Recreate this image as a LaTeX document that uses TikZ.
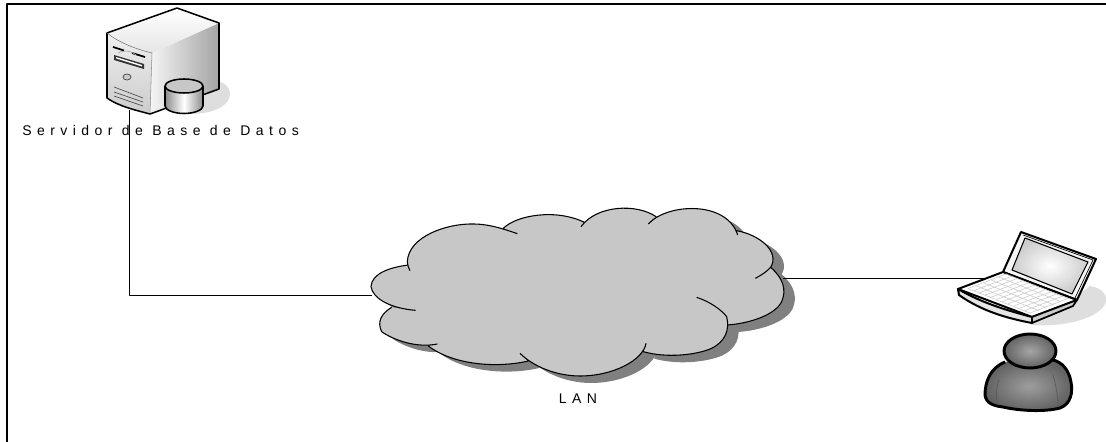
\documentclass[tikz,border=0pt]{standalone}
\usepackage{fontspec}
\setmainfont{Liberation Sans}
\newcommand{\cloudp}[1]{
  (63,290) .. controls (65,250) and (120,232) .. (175,225)
  #1 (180,242) .. controls (176,234) and (172,225) .. (172,215) .. controls (175,140) and (290,100) .. (370,102) .. controls (420,102) and (470,120) .. (502,131)
  #1 (460,115) .. controls (500,75) and (620,55) .. (705,98)
  #1 (693,110) .. controls (740,45) and (860,40) .. (918,80)
  #1 (895,102) .. controls (950,40) and (1130,30) .. (1163,135)
  #1 (1160,122) .. controls (1230,135) and (1290,185) .. (1262,232) .. controls (1250,245) and (1235,255) .. (1216,265)
  #1 (1262,232) .. controls (1300,265) and (1310,300) .. (1295,335) .. controls (1275,375) and (1200,400) .. (1132,405)
  #1 (1040,322) .. controls (1080,335) and (1115,360) .. (1130,380) .. controls (1140,420) and (1125,455) .. (1085,475) .. controls (1040,495) and (950,505) .. (880,485)
  #1 (888,460) .. controls (880,510) and (790,558) .. (690,558) .. controls (620,558) and (550,530) .. (510,490)
  #1 (535,513) .. controls (440,535) and (310,525) .. (235,468)
  #1 (262,462) .. controls (200,475) and (130,450) .. (95,425) .. controls (80,395) and (95,370) .. (125,352)
  #1 (197,361) .. controls (120,355) and (68,325) .. (63,290)}
\begin{document}
\begin{tikzpicture}[x=0.75pt,y=-0.75pt,line join=round,
  lbl/.style={inner sep=0pt,font=\fontsize{10.5}{12}\selectfont\addfontfeature{LetterSpace=39}},
  wire/.style={draw=black,line width=0.7pt},
  outl/.style={draw=black,line width=1.15pt},
  cloudln/.style={draw=black,line width=0.8pt},
  keyln/.style={draw=black!20,line width=0.45pt}]
\path[use as bounding box] (0,0) rectangle (1106,442);
\definecolor{cloudfill}{gray}{0.78}
\definecolor{cloudshadow}{gray}{0.5}
\definecolor{softshadow}{gray}{0.87}
% frame
\draw[black,line width=1.5pt] (7,442) -- (7,4.5) -- (1106,4.5);
% named attachment points
\coordinate (srv) at (129,110);
\coordinate (cloudw) at (372,295);
\coordinate (cloude) at (783,278);
\coordinate (laptop) at (988,278);
% server shadow
\fill[softshadow] (190,114) .. controls (215,114) and (230,105) .. (230,94) .. controls (230,87) and (225,83) .. (218,81) -- (200,100) -- cycle;
% server
\shade[left color=black!4,right color=black!36] (152,53) -- (219,23) -- (219,89) -- (150,113) -- cycle;
\shade[top color=white,bottom color=black!10] (107,33) -- (177,8) -- (219,23) -- (152,53) .. controls (135,49) and (118,42) .. cycle;
\shade[top color=black!6,bottom color=black!20] (107,33) .. controls (118,42) and (135,49) .. (152,53) -- (150,113) .. controls (135,110) and (118,106) .. (107,98) -- cycle;
\draw[outl] (107,33) -- (177,8) -- (219,23) -- (219,89) -- (150,114) .. controls (135,110) and (118,106) .. (107,98) -- cycle;
\draw[black!55,line width=0.4pt] (107,33) .. controls (118,42) and (135,49) .. (152,53);
\draw[black!45,line width=0.4pt] (152,53) -- (150,113);
\draw[black,line width=1.3pt] (113,47) -- (124,50.5);
\draw[black,line width=1.3pt] (132,53) -- (145,57);
\draw[black!35,line width=0.5pt] (118,53) .. controls (124,50) and (130,50) .. (136,55);
\fill[black!80] (114,55) -- (144,64) -- (144,69) -- (114,60) -- cycle;
\fill[white] (116,57) -- (142,65) -- (142,66.5) -- (116,58.5) -- cycle;
\draw[black!70,line width=0.6pt,fill=black!20] (127,77) ellipse (4 and 3);
\draw[black!70,line width=0.5pt] (114,87) -- (143,98) (114,92) -- (143,102) (114,96) -- (143,106);
% database cylinder
\shade[left color=black!45,right color=black!45,middle color=white] (165,86) -- (165,106) .. controls (165,110) and (174,113.5) .. (184,113.5) .. controls (194,113.5) and (203,110) .. (203,106) -- (203,86) -- cycle;
\draw[outl,fill=black!22] (184,86) ellipse (19 and 7);
\draw[outl] (165,86) -- (165,106) .. controls (165,110) and (174,113.5) .. (184,113.5) .. controls (194,113.5) and (203,110) .. (203,106) -- (203,86);
% server label
\node[lbl,anchor=west] (srvlabel) at (22,130) {Servidor de Base de Datos};
% cloud
\begin{scope}[shift={(350,190)},scale=1/3]
  \begin{scope}[shift={(33,21)}]
    \fill[cloudshadow] \cloudp{--} -- cycle;
  \end{scope}
  \fill[cloudfill] \cloudp{--} -- cycle;
  \draw[cloudln] \cloudp{};
\end{scope}
\node[lbl,anchor=center] (lanlabel) at (578,399) {LAN};
% laptop shadow
\fill[softshadow] (1030,325) .. controls (1070,328) and (1106,315) .. (1106,300) .. controls (1106,292) and (1100,288) .. (1090,286) -- (1060,310) -- cycle;
% laptop lid
\draw[black,line width=1.5pt,fill=black!4] (1003,272) -- (1021,232) -- (1096,259) -- (1077,300) -- cycle;
\shade[inner color=white,outer color=black!20] (1025,238) -- (1088,262) -- (1072,294) -- (1012,270) -- cycle;
\draw[black,line width=0.8pt] (1025,238) -- (1088,262) -- (1072,294) -- (1012,270) -- cycle;
\draw[black,line width=0.5pt] (1023,235) -- (1093,260) -- (1075,298);
% laptop base
\draw[black,line width=1.5pt,fill=white] (958,289) -- (1003,272) -- (1077,300) -- (1032,317) -- cycle;
\draw[black,line width=1.5pt,fill=black!10] (958,289) -- (959,295) .. controls (980,310) and (1005,318) .. (1032,323) -- (1032,317) .. controls (1005,310) and (980,302) .. cycle;
\draw[black,line width=1.3pt,fill=black!20] (1032,317) -- (1077,300) -- (1073,306) -- (1032,323) -- cycle;
% keys
\foreach \i in {0,...,5}{
  \draw[keyln] ({968+\i*7.6},{288.5-\i*2.9}) -- ({1032+\i*7.6-1},{313.5-\i*2.9});
}
\foreach \j in {0,...,11}{
  \draw[keyln] ({968+\j*5.7},{288.5+\j*2.2}) -- ({968+38+\j*5.7},{288.5-14.5+\j*2.2});
}
% user
\shade[inner color=black!38,outer color=black!62] (1005,362) .. controls (990,368) and (985,382) .. (985,395) .. controls (986,404) and (995,406) .. (1003,407) .. controls (1020,411) and (1045,412) .. (1060,408) .. controls (1071,404) and (1073,392) .. (1071,382) .. controls (1069,370) and (1062,362) .. (1053,360) -- cycle;
\draw[black,line width=2.2pt] (1005,362) .. controls (990,368) and (985,382) .. (985,395) .. controls (986,404) and (995,406) .. (1003,407) .. controls (1020,411) and (1045,412) .. (1060,408) .. controls (1071,404) and (1073,392) .. (1071,382) .. controls (1069,370) and (1062,362) .. (1053,360);
\draw[black!65,line width=0.5pt] (999,380) .. controls (996,388) and (996,396) .. (997,405) (1053,375) .. controls (1056,386) and (1058,396) .. (1058,407);
\shade[inner color=black!35,outer color=black!62] (1030,351) ellipse (26 and 17);
\draw[black,line width=2.2pt] (1030,351) ellipse (26 and 17);
% connectors
\draw[wire] (srv) |- (cloudw);
\draw[wire] (cloude) -- (laptop);
\end{tikzpicture}
\end{document}
